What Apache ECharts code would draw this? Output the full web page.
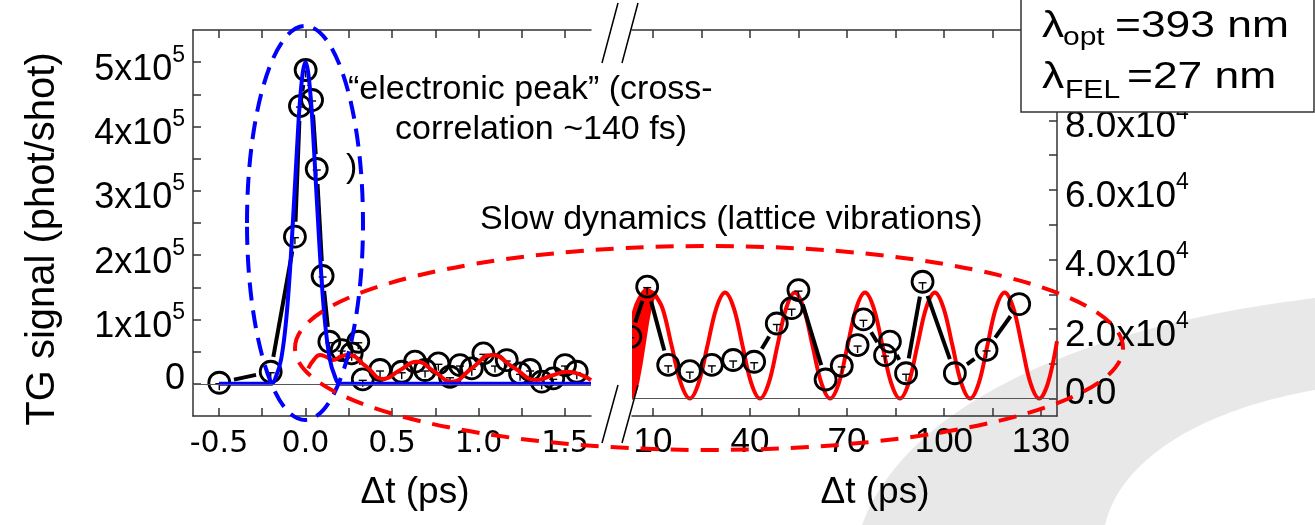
<!DOCTYPE html>
<html>
<head>
<meta charset="utf-8">
<script src="https://cdn.jsdelivr.net/npm/echarts@6/dist/echarts.min.js"></script>
<style>
  html, body { margin: 0; padding: 0; background: #fff; }
  #chart { width: 1315px; height: 525px; }
</style>
</head>
<body>
<div id="chart"></div>
<script>
// ---- Short delays (ps): measured TG signal (phot/shot) ----
const fastTime   = [-0.498, -0.201, -0.061, -0.032, 0.001, 0.038, 0.065, 0.099, 0.138, 0.209,
                     0.267, 0.305, 0.331, 0.431, 0.556, 0.633, 0.691, 0.768, 0.835, 0.893,
                     0.961, 1.028, 1.095, 1.163, 1.240, 1.298, 1.365, 1.432, 1.500, 1.568];
const fastSignal = [1700, 18800, 228700, 431800, 487800, 441200, 333900, 167600, 65400, 52500,
                    47400, 65400, 7000, 21500, 18800, 34400, 21500, 31900, 11000, 29200,
                    24100, 47400, 29200, 37000, 16300, 21500, 3300, 8500, 29200, 18800];
const fastErr    = [10000, 10000, 10000, 10000, 10000, 10000, 10000, 10000, 10000, 10000,
                    10000, 10000, 10000, 10000, 10000, 10000, 10000, 10000, 10000, 10000,
                    10000, 10000, 10000, 10000, 10000, 10000, 10000, 10000, 10000, 10000];

// Electronic peak (cross-correlation ~140 fs)
const peakFitTime   = [-0.5, -0.2, -0.17, -0.14, -0.11, -0.08, -0.05, -0.025, 0, 0.025, 0.05, 0.08, 0.11, 0.14, 0.17, 0.2, 1.65];
const peakFitSignal = [0, 0, 11600, 39000, 103600, 217500, 361000, 461000, 500000, 461000, 361000, 217500, 103600, 39000, 11600, 0, 0];

// Fast lattice oscillation at short delays
const fastOscTime   = [0.016, 0.05, 0.084, 0.12, 0.16, 0.205, 0.248, 0.35, 0.45, 0.545, 0.643, 0.745, 0.845, 0.96, 1.076, 1.205, 1.336, 1.42, 1.51, 1.65];
const fastOscSignal = [24000, 38000, 44800, 42000, 37000, 42500, 44800, 27000, 7500, 21000, 34400, 19000, 3300, 24000, 44800, 25000, 5900, 12500, 18800, 5900];

// ---- Long delays (ps) ----
const slowTime   = [3.0, 8.2, 14.7, 21.4, 28.2, 34.8, 41.3, 48.3, 52.9, 55.0, 63.4, 68.4, 73.3, 75.1, 81.8, 83.3, 88.3, 93.4, 103.4, 113.2, 123.3];
const slowSignal = [17800, 32200, 9700, 7900, 9700, 11100, 10600, 21600, 26000, 31200, 5500, 9400, 15400, 22800, 12500, 16400, 7300, 33600, 7300, 14000, 27200];
const slowErr    = [2000, 2000, 2000, 2000, 2000, 2000, 2000, 2000, 2000, 2000, 0, 2000, 2000, 2000, 2000, 0, 2000, 2000, 0, 2000, 0];

// Slow lattice oscillation (period ~21.6 ps)
const slowOscTime = [
  10.1, 12.9, 15.75, 18.6, 21.4, 24.1, 26.85, 29.6, 32.3, 35.0, 37.7, 40.4,
  43.1, 45.8, 48.5, 51.2, 53.9, 56.6, 59.35, 62.1, 64.8, 67.5, 70.2, 72.9,
  75.6, 78.3, 81.0, 83.7, 86.4, 89.1, 91.8, 94.5, 97.2, 99.9, 102.65, 105.4,
  108.1, 110.8, 113.45, 116.1, 118.8, 121.5, 124.15, 126.8, 129.5, 132.2, 135
];
const slowOscSignal = [
  30500, 26050, 15250, 4450, 0, 4450, 15250, 26050, 30500, 26050, 15250, 4450,
  0, 4450, 15250, 26050, 30500, 26050, 15250, 4450, 0, 4450, 15250, 26050,
  30500, 26050, 15250, 4450, 0, 4450, 15250, 26050, 30500, 26050, 15250, 4450,
  0, 4450, 15250, 26050, 30500, 26050, 15250, 4450, 0, 4450, 16500
];

// Unresolved fast oscillation at the start of the long-delay window (envelope)
const onsetTime = [3.5, 4.5, 5.5, 6.5, 7.5, 8.5, 9.5, 10.5, 11.5];
const onsetLow  = [0, 1500, 5000, 10000, 16000, 22000, 27000, 29500, 29000];
const onsetHigh = [24000, 27000, 29000, 30500, 31500, 31500, 31000, 30500, 29000];

// ---- Ticks ----
const fastTicks      = [-0.5, -0.25, 0, 0.25, 0.5, 0.75, 1, 1.25, 1.5];
const fastTickLabels = [-0.5, 0, 0.5, 1, 1.5];
const slowTicks      = [10, 25, 40, 55, 70, 85, 100, 115, 130];
const slowTickLabels = [10, 40, 70, 100, 130];
const leftYTicks     = [0, 50000, 100000, 150000, 200000, 250000, 300000, 350000, 400000, 450000, 500000];
const leftYLabels    = [0, 100000, 200000, 300000, 400000, 500000];
const rightYTicks    = [0, 10000, 20000, 30000, 40000, 50000, 60000, 70000, 80000, 90000, 100000];
const rightYLabels   = [0, 20000, 40000, 60000, 80000];

const ARIAL = "'Liberation Sans', Arial, sans-serif";
const WIDE = "'DejaVu Sans', sans-serif";
const AXIS_COLOR = '#333';

const pairs = (xs, ys) => xs.map((x, i) => [x, ys[i]]);

// Hollow circles with small error stems, joined by segments that stop short of each symbol
function pointsRenderer(times, values, errs) {
  return function (params, api) {
    const i = params.dataIndex;
    const p = api.coord([times[i], values[i]]);
    const r = 10.5, gap = 15;
    const children = [];
    if (i > 0) {
      const q = api.coord([times[i - 1], values[i - 1]]);
      const dx = p[0] - q[0], dy = p[1] - q[1];
      const L = Math.hypot(dx, dy);
      if (L > 2 * gap) {
        const ux = dx / L, uy = dy / L;
        children.push({
          type: 'line',
          shape: { x1: q[0] + ux * gap, y1: q[1] + uy * gap, x2: p[0] - ux * gap, y2: p[1] - uy * gap },
          style: { stroke: '#000', lineWidth: 4 }
        });
      }
    }
    children.push({
      type: 'circle',
      shape: { cx: p[0], cy: p[1], r: r },
      style: { fill: 'none', stroke: '#000', lineWidth: 2.8 }
    });
    if (errs[i] > 0) {
      const lo = api.coord([times[i], values[i] - errs[i]]);
      const cy = p[1] + 1;
      children.push({ type: 'line', shape: { x1: p[0] - 4, y1: cy, x2: p[0] + 4, y2: cy }, style: { stroke: '#000', lineWidth: 1.4 } });
      children.push({ type: 'line', shape: { x1: p[0], y1: cy, x2: p[0], y2: cy + (lo[1] - p[1]) }, style: { stroke: '#000', lineWidth: 1.4 } });
    }
    return { type: 'group', children: children };
  };
}

// Filled band between two envelopes
function bandRenderer(xs, low, high) {
  return function (params, api) {
    if (params.dataIndex !== 0) return null;
    const pts = [];
    for (let i = 0; i < xs.length; i++) pts.push(api.coord([xs[i], high[i]]));
    for (let i = xs.length - 1; i >= 0; i--) pts.push(api.coord([xs[i], low[i]]));
    return {
      type: 'polygon',
      shape: { points: pts },
      style: { fill: '#ff0000', stroke: '#ff0000', lineWidth: 2 }
    };
  };
}

function xAxisPair(grid, min, max, ticks, labels, digits, labelFont, labelSize, margin, padLeft) {
  const line = { show: true, onZero: false, lineStyle: { color: AXIS_COLOR, width: 1.5 } };
  const tick = { show: true, inside: true, length: 8, customValues: ticks, lineStyle: { color: AXIS_COLOR, width: 1.5 } };
  return [
    {
      gridIndex: grid, type: 'value', position: 'bottom', min: min, max: max,
      axisLine: line, axisTick: tick, splitLine: { show: false },
      axisLabel: {
        customValues: labels, formatter: v => v.toFixed(digits),
        fontFamily: labelFont, fontSize: labelSize, color: '#000', margin: margin
      },
      name: 'Δt (ps)', nameLocation: 'middle', nameGap: 58,
      nameTextStyle: { fontFamily: ARIAL, fontSize: 37, color: '#000', padding: [0, 0, 0, padLeft] }
    },
    {
      gridIndex: grid, type: 'value', position: 'top', min: min, max: max,
      axisLine: line, axisTick: tick, splitLine: { show: false }, axisLabel: { show: false }
    }
  ];
}

// Crescent outline for the background swoosh, sampled from two cubic curves
function cubic(p0, p1, p2, p3, n) {
  const out = [];
  for (let k = 0; k <= n; k++) {
    const t = k / n, s = 1 - t;
    out.push([
      s * s * s * p0[0] + 3 * s * s * t * p1[0] + 3 * s * t * t * p2[0] + t * t * t * p3[0],
      s * s * s * p0[1] + 3 * s * s * t * p1[1] + 3 * s * t * t * p2[1] + t * t * t * p3[1]
    ]);
  }
  return out;
}
const swoosh = cubic([862, 525], [900, 420], [1050, 330], [1315, 298], 60)
  .concat(cubic([1315, 390], [1200, 410], [1120, 460], [1105, 525], 60));

const chart = echarts.init(document.getElementById('chart'), null, { renderer: 'canvas' });

const zeroLine = {
  silent: true, symbol: 'none', label: { show: false },
  lineStyle: { color: '#555', width: 1, type: 'solid' },
  data: [{ yAxis: 0 }]
};

chart.setOption({
  backgroundColor: '#fff',
  animation: false,
  grid: [
    { left: 193, top: 30, width: 398, height: 386 },
    { left: 632, top: 30, width: 425, height: 386 }
  ],
  xAxis: [].concat(
    xAxisPair(0, -0.65, 1.65, fastTicks, fastTickLabels, 1, WIDE, 30, 13, 46),
    xAxisPair(1, 3.5, 135, slowTicks, slowTickLabels, 0, ARIAL, 35, 9, 61)
  ),
  yAxis: [
    {
      gridIndex: 0, type: 'value', position: 'left', min: -50000, max: 550000,
      axisLine: { show: true, onZero: false, lineStyle: { color: AXIS_COLOR, width: 1.5 } },
      axisTick: { show: true, inside: true, length: 8, customValues: leftYTicks, lineStyle: { color: AXIS_COLOR, width: 1.5 } },
      splitLine: { show: false },
      axisLabel: {
        customValues: leftYLabels, margin: 8, padding: [7, 0, 0, 0],
        formatter: v => v === 0 ? '{z|0}' : '{b|' + (v / 100000) + 'x10}{s|5}',
        rich: {
          b: { fontFamily: ARIAL, fontSize: 36, color: '#000', lineHeight: 44, verticalAlign: 'bottom' },
          s: { fontFamily: ARIAL, fontSize: 23, color: '#000', lineHeight: 20, verticalAlign: 'top' },
          z: { fontFamily: ARIAL, fontSize: 36, color: '#000', lineHeight: 44, padding: [0, 0, 17, 0] }
        }
      },
      name: 'TG signal (phot/shot)', nameLocation: 'middle', nameGap: 130,
      nameTextStyle: { fontFamily: ARIAL, fontSize: 40, color: '#000', padding: [0, 32, 0, 0] }
    },
    {
      gridIndex: 1, type: 'value', position: 'right', min: -5000, max: 106000,
      axisLine: { show: true, onZero: false, lineStyle: { color: AXIS_COLOR, width: 1.5 } },
      axisTick: { show: true, inside: true, length: 8, customValues: rightYTicks, lineStyle: { color: AXIS_COLOR, width: 1.5 } },
      splitLine: { show: false },
      axisLabel: {
        customValues: rightYLabels, margin: 8, padding: [6, 0, 0, 0],
        formatter: v => v === 0 ? '{z|0.0}' : '{b|' + (v / 10000).toFixed(1) + 'x10}{s|4}',
        rich: {
          b: { fontFamily: ARIAL, fontSize: 37, color: '#000', lineHeight: 44, verticalAlign: 'bottom' },
          s: { fontFamily: ARIAL, fontSize: 23, color: '#000', lineHeight: 20, verticalAlign: 'top' },
          z: { fontFamily: ARIAL, fontSize: 37, color: '#000', lineHeight: 44, padding: [0, 0, 16, 0] }
        }
      }
    }
  ],
  series: [
    {
      type: 'custom', name: 'TG data (short)', xAxisIndex: 0, yAxisIndex: 0, clip: true, z: 2,
      data: pairs(fastTime, fastSignal), encode: { x: 0, y: 1 },
      renderItem: pointsRenderer(fastTime, fastSignal, fastErr)
    },
    {
      type: 'line', name: 'fast oscillation', xAxisIndex: 0, yAxisIndex: 0, z: 3,
      data: pairs(fastOscTime, fastOscSignal), smooth: true, showSymbol: false,
      lineStyle: { color: '#ff0000', width: 4 }
    },
    {
      type: 'line', name: 'electronic peak', xAxisIndex: 0, yAxisIndex: 0, z: 4,
      data: pairs(peakFitTime, peakFitSignal), smooth: 0.4, showSymbol: false,
      lineStyle: { color: '#0000ff', width: 4 },
      markLine: zeroLine
    },
    {
      type: 'custom', name: 'onset', xAxisIndex: 2, yAxisIndex: 1, clip: true, z: 3,
      data: [[onsetTime[0], onsetLow[0]]], encode: { x: 0, y: 1 },
      renderItem: bandRenderer(onsetTime, onsetLow, onsetHigh)
    },
    {
      type: 'line', name: 'slow oscillation', xAxisIndex: 2, yAxisIndex: 1, z: 3,
      data: pairs(slowOscTime, slowOscSignal), smooth: 0.35, showSymbol: false,
      lineStyle: { color: '#ff0000', width: 4 },
      markLine: zeroLine
    },
    {
      type: 'custom', name: 'TG data (long)', xAxisIndex: 2, yAxisIndex: 1, clip: true, z: 4,
      data: pairs(slowTime, slowSignal), encode: { x: 0, y: 1 },
      renderItem: pointsRenderer(slowTime, slowSignal, slowErr)
    }
  ],
  graphic: {
    elements: [
      // light swoosh in the lower-right corner
      {
        type: 'polygon', z: -10, silent: true,
        shape: { points: swoosh },
        style: { fill: '#e8e8e8' }
      },
      // axis-break marks
      { type: 'line', z: 40, shape: { x1: 602, y1: 63, x2: 618, y2: 3 }, style: { stroke: '#000', lineWidth: 1.5 } },
      { type: 'line', z: 40, shape: { x1: 622, y1: 63, x2: 638, y2: 3 }, style: { stroke: '#000', lineWidth: 1.5 } },
      { type: 'line', z: 40, shape: { x1: 602, y1: 443, x2: 618, y2: 385 }, style: { stroke: '#000', lineWidth: 1.5 } },
      { type: 'line', z: 40, shape: { x1: 622, y1: 443, x2: 638, y2: 385 }, style: { stroke: '#000', lineWidth: 1.5 } },
      // annotations
      { type: 'text', z: 40, x: 348, y: 90, style: { text: '“electronic peak” (cross-', font: '34px ' + ARIAL, fill: '#000', verticalAlign: 'middle' } },
      { type: 'text', z: 40, x: 395, y: 130, style: { text: 'correlation ~140 fs)', font: '34px ' + ARIAL, fill: '#000', verticalAlign: 'middle' } },
      { type: 'text', z: 40, x: 346, y: 168, style: { text: ')', font: '34px ' + ARIAL, fill: '#000', verticalAlign: 'middle' } },
      { type: 'text', z: 40, x: 480, y: 220, style: { text: 'Slow dynamics (lattice vibrations)', font: '34px ' + ARIAL, fill: '#000', verticalAlign: 'middle' } },
      // highlight ellipses
      {
        type: 'ellipse', z: 50, silent: true,
        shape: { cx: 305, cy: 223, rx: 58, ry: 197 },
        style: { fill: 'none', stroke: '#0000ff', lineWidth: 4, lineDash: [18, 10] }
      },
      {
        type: 'ellipse', z: 50, silent: true,
        shape: { cx: 709, cy: 348, rx: 414, ry: 102 },
        style: { fill: 'none', stroke: '#ff0000', lineWidth: 4, lineDash: [18, 12] }
      },
      // wavelength box
      {
        type: 'rect', z: 60,
        shape: { x: 1021, y: -2, width: 293, height: 114 },
        style: { fill: '#fff', stroke: '#333', lineWidth: 1.5 }
      },
      {
        type: 'group', z: 61, x: 1042, y: 0, scaleX: 1.2,
        children: [
          { type: 'text', z: 61, x: 0, y: 27, style: { text: 'λ', font: '37px ' + ARIAL, fill: '#000', verticalAlign: 'middle' } },
          { type: 'text', z: 61, x: 17.5, y: 38, style: { text: 'opt', font: '25px ' + ARIAL, fill: '#000', verticalAlign: 'middle' } },
          { type: 'text', z: 61, x: 60.8, y: 27, style: { text: '=393 nm', font: '37px ' + ARIAL, fill: '#000', verticalAlign: 'middle' } },
          { type: 'text', z: 61, x: 0, y: 78, style: { text: 'λ', font: '37px ' + ARIAL, fill: '#000', verticalAlign: 'middle' } },
          { type: 'text', z: 61, x: 19.2, y: 91, style: { text: 'FEL', font: '25px ' + ARIAL, fill: '#000', verticalAlign: 'middle' } },
          { type: 'text', z: 61, x: 70.8, y: 78, style: { text: '=27 nm', font: '37px ' + ARIAL, fill: '#000', verticalAlign: 'middle' } }
        ]
      }
    ]
  }
});
</script>
</body>
</html>
